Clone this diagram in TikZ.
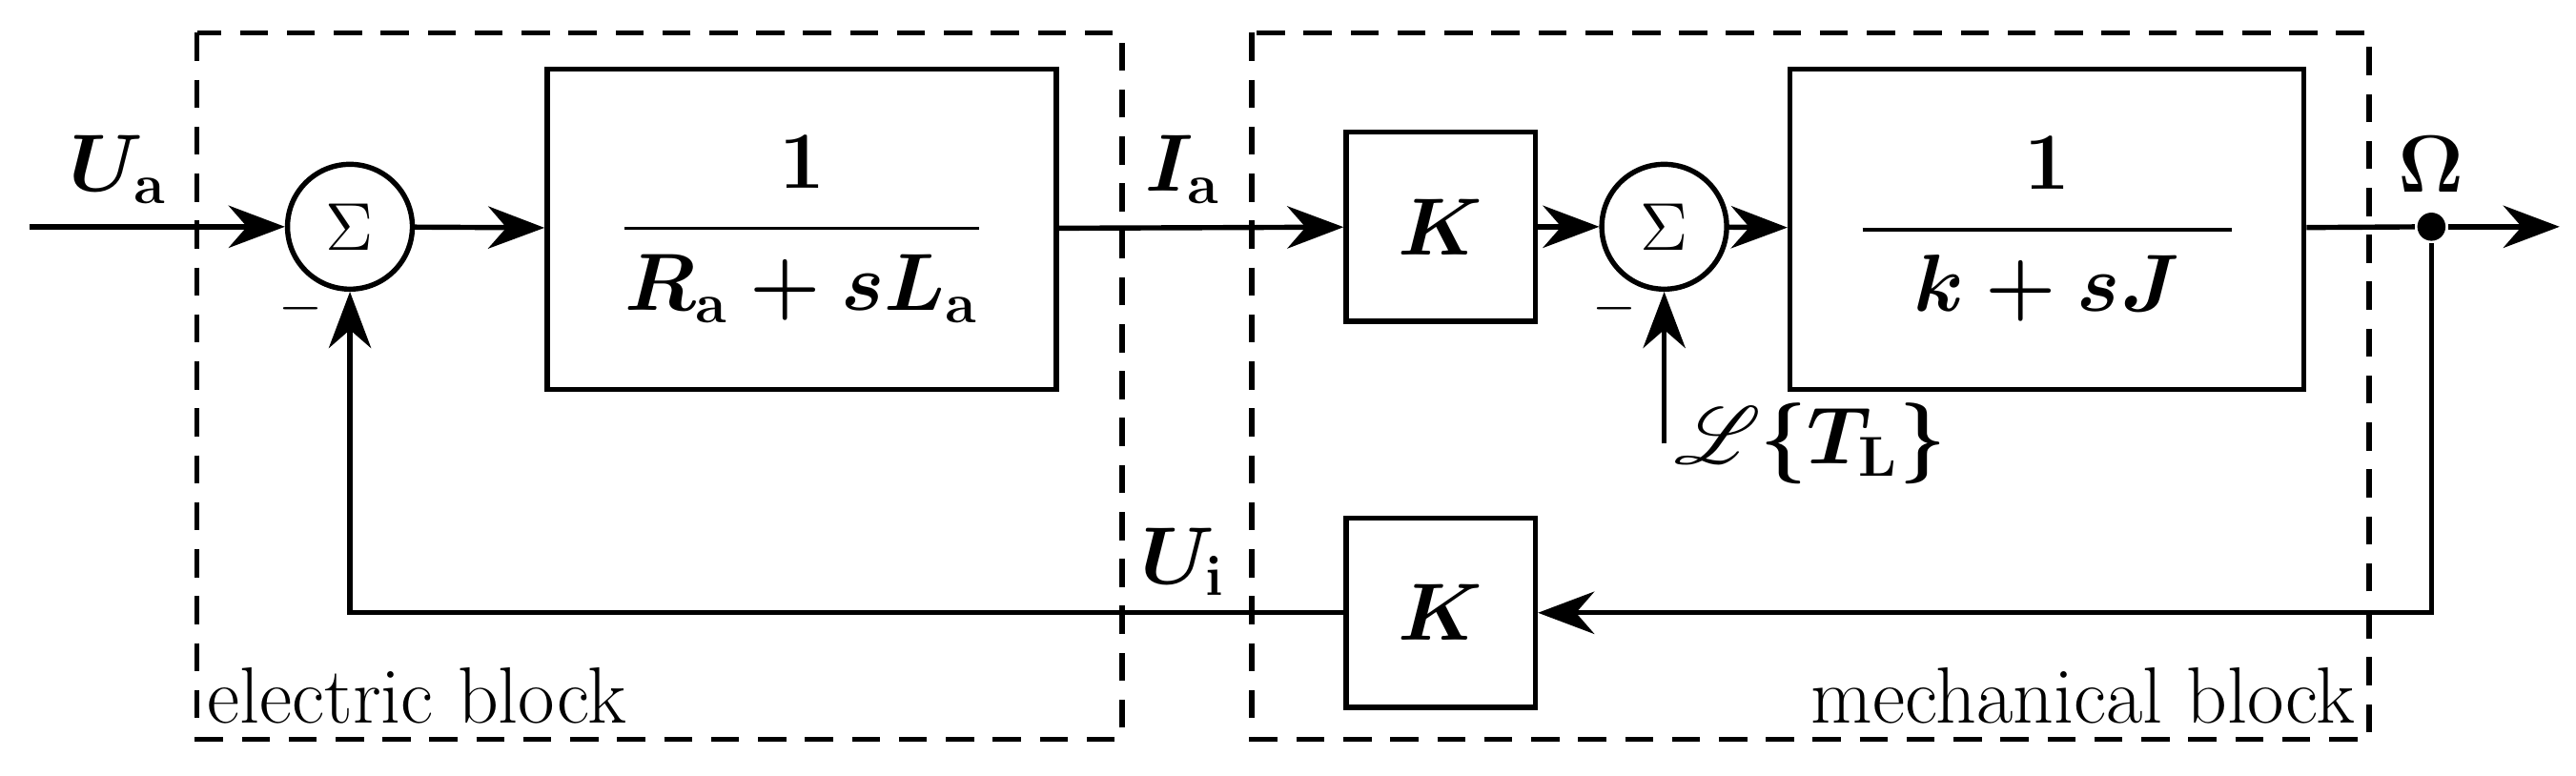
\documentclass[tikz,border=0pt]{standalone}
\usepackage{amsmath,mathrsfs}
\usetikzlibrary{arrows.meta}
\begin{document}
\begin{tikzpicture}[x=0.35pt,y=-0.35pt,
  font=\fontsize{17}{20}\selectfont,
  math/.style={font=\fontsize{17}{20}\selectfont\boldmath},
  line width=1.1pt,
  arr/.style={-{Stealth[length=12pt,width=9pt]}},
  blk/.style={draw,line width=1.1pt,inner sep=0pt,anchor=center,math},
  sum/.style={draw,circle,minimum size=26.6pt,inner sep=0pt,font=\fontsize{15}{18}\selectfont},
  dbox/.style={draw,line width=1.1pt,dash pattern=on 6pt off 4pt}]
\useasboundingbox (0,0) rectangle (1568,472);
\draw[dbox] (120,20) rectangle (683,450);
\draw[dbox] (762,20) rectangle (1442,450);
\node[anchor=base west,inner sep=1pt] (le) at (122,440) {electric block};
\node[anchor=base east,inner sep=1pt] (lm) at (1438,440) {mechanical block};
\coordinate (in) at (18,138);
\node[sum] (s1) at (213,138) {$\Sigma$};
\node[blk,minimum width=108.5pt,minimum height=68.2pt] (b1) at (488,139.5) {$\dfrac{\quad 1\quad}{R_\mathrm{a}+sL_\mathrm{a}}$};
\node[blk,minimum width=40.3pt,minimum height=40.3pt] (k1) at (877,138) {$K$};
\node[sum] (s2) at (1013,138) {$\Sigma$};
\node[blk,minimum width=109.5pt,minimum height=68.2pt] (b2) at (1246,139.5) {$\dfrac{1}{\;\;k+sJ\;\;}$};
\node[circle,fill,inner sep=0pt,minimum size=6pt] (o) at (1480,138) {};
\coordinate (out) at (1558,138);
\node[blk,minimum width=40.3pt,minimum height=40.3pt] (k2) at (877,373) {$K$};
\coordinate (c1) at (1480,373);
\coordinate (c2) at (213,373);
\coordinate (tl) at (1013,270);
\draw[arr] (in) -- (s1);
\draw[arr] (s1) -- (b1);
\draw[arr] (b1) -- (k1);
\draw[arr] (k1) -- (s2);
\draw[arr] (s2) -- (b2);
\draw (b2) -- (o);
\draw[arr] (o) -- (out);
\draw[arr] (o) -- (c1) -- (k2);
\draw[arr] (k2) -- (c2) -- (s1);
\draw[arr] (tl) -- (s2);
\node[math] (ua) at (72,103) {$U_\mathrm{a}$};
\node[math] (ia) at (720,103) {$I_\mathrm{a}$};
\node[math] (om) at (1480,100) {$\Omega$};
\node[math] (ui) at (720,342) {$U_\mathrm{i}$};
\node (m1) at (183,188) {$\scriptstyle -$};
\node (m2) at (983,188) {$\scriptstyle -$};
\node[math,anchor=west] (tll) at (1008,270) {$\mathscr{L}\{T_\mathrm{L}\}$};
\end{tikzpicture}
\end{document}
